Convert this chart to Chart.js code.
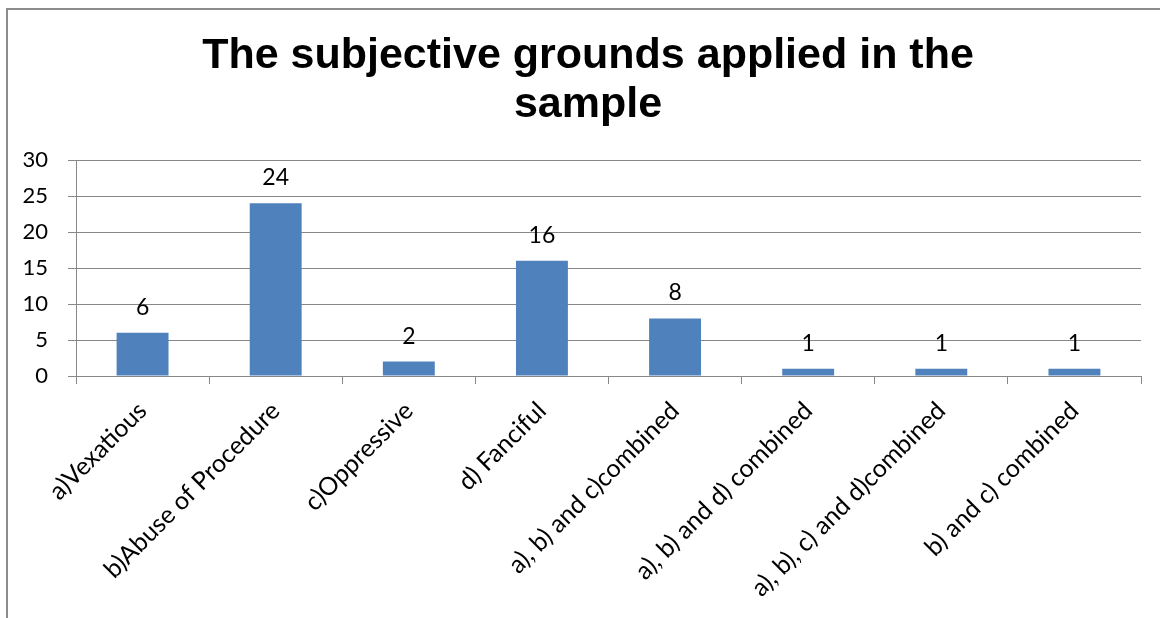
<!DOCTYPE html>
<html>
<head>
<meta charset="utf-8">
<script src="https://cdn.jsdelivr.net/npm/chart.js@4/dist/chart.umd.min.js"></script>
<style>
  html, body { margin: 0; padding: 0; background: #fff; overflow: hidden; }
  #frame { position: absolute; left: 6px; top: 8px; width: 1200px; height: 700px;
           border-left: 2px solid #8c8c8c; border-top: 2px solid #8c8c8c; }
  #wrap { position: absolute; left: 0; top: 0; width: 1176px; height: 618px; }
</style>
</head>
<body>
<div id="frame"></div>
<div id="wrap"><canvas id="chart" width="1176" height="618"></canvas></div>
<script>
const categories = [
  "a)Vexatious",
  "b)Abuse of Procedure",
  "c)Oppressive",
  "d) Fanciful",
  "a), b) and c)combined",
  "a), b) and d) combined",
  "a), b), c) and d)combined",
  "b) and c) combined"
];
const counts = [6, 24, 2, 16, 8, 1, 1, 1];
const yTicks = [0, 5, 10, 15, 20, 25, 30];
const titleLines = ["The subjective grounds applied in the", "sample"];

const labelFont = "Lato, 'Open Sans', sans-serif";

// numbers above the bars
const valueLabels = {
  id: 'valueLabels',
  afterDatasetsDraw(chart) {
    const ctx = chart.ctx;
    const meta = chart.getDatasetMeta(0);
    ctx.save();
    ctx.font = "23px " + labelFont;
    ctx.fillStyle = "#000";
    ctx.textAlign = "center";
    ctx.textBaseline = "alphabetic";
    meta.data.forEach((bar, i) => {
      ctx.fillText(String(chart.data.datasets[0].data[i]), bar.x, bar.y - 18);
    });
    ctx.restore();
  }
};

var ctx = document.getElementById('chart').getContext('2d');
var chart = new Chart(ctx, {
  type: 'bar',
  data: {
    labels: categories,
    datasets: [{
      data: counts,
      backgroundColor: "#4F81BD",
      borderWidth: 0,
      categoryPercentage: 1,
      barPercentage: 0.39
    }]
  },
  options: {
    responsive: false,
    animation: false,
    layout: { padding: 0 },
    plugins: {
      legend: { display: false },
      tooltip: { enabled: false },
      title: {
        display: true,
        text: titleLines,
        color: "#000",
        font: { family: "'Liberation Sans', Arial, sans-serif", size: 43, weight: 'bold', lineHeight: 1.15 },
        padding: { top: 31, bottom: 30.1 }
      }
    },
    scales: {
      x: {
        afterFit(scale) { scale.height = 242; },
        grid: { offset: true, drawOnChartArea: false, drawTicks: true, tickLength: 8, color: "#888" },
        border: { color: "#888", width: 1 },
        ticks: {
          autoSkip: false,
          minRotation: 45,
          maxRotation: 45,
          padding: 12,
          color: "#000",
          font: { family: labelFont, size: 25 }
        }
      },
      y: {
        min: 0,
        max: 30,
        afterFit(scale) { scale.width = 76; },
        afterBuildTicks(scale) { scale.ticks = yTicks.map(v => ({ value: v })); },
        grid: { color: "#888", tickLength: 8 },
        border: { color: "#888", width: 1 },
        ticks: {
          padding: 20,
          color: "#000",
          font: { family: labelFont, size: 22 }
        }
      },
      // empty strip on the right so the chart box is wider than the plot
      side: {
        position: 'right',
        afterFit(scale) { scale.width = 35; },
        grid: { display: false },
        border: { display: false },
        ticks: { display: false }
      }
    }
  },
  plugins: [valueLabels]
});
</script>
</body>
</html>
